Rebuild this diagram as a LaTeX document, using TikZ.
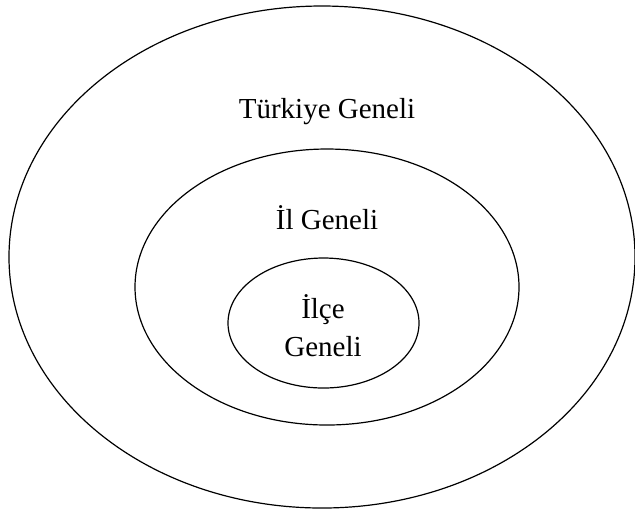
\documentclass[tikz,border=0pt]{standalone}
\usepackage{fontspec}
\setmainfont{Liberation Serif}
\usetikzlibrary{shapes.geometric}

\begin{document}
\begin{tikzpicture}[x=0.5pt,y=-0.5pt, ring/.style={ellipse,draw,line width=0.6pt,inner sep=0pt},lbl/.style={font=\fontsize{14.5}{19}\selectfont,align=center,inner sep=0pt}]
            \useasboundingbox (0,0) rectangle (635,511);
            \node[ring,minimum width=313pt,minimum height=251pt] (tr) at (322,257) {};
            \node[ring,minimum width=192pt,minimum height=138pt] (il) at (327,287) {};
            \node[ring,minimum width=95.5pt,minimum height=65pt] (ilce) at (323.5,323) {};

            \node[lbl] (trlbl) at (327,112) {Türkiye Geneli};
            \node[lbl] (illbl) at (327,218) {İl Geneli};
            \node[lbl] (ilcelbl) at (323,326) {İlçe\\Geneli};
          \end{tikzpicture}
\end{document}
